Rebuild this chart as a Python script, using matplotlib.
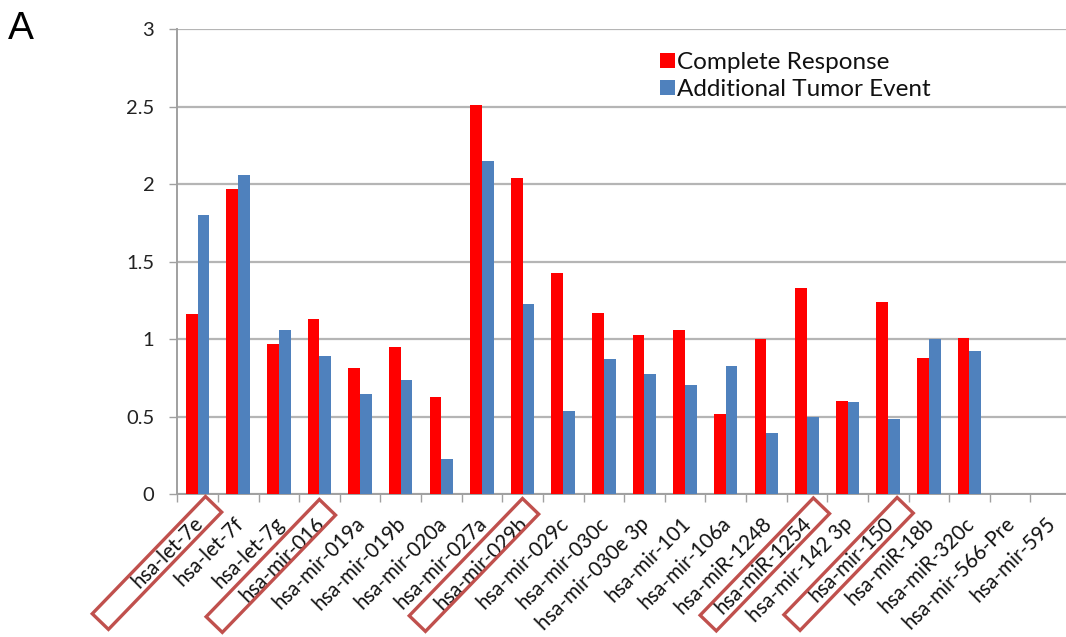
import numpy as np
import matplotlib
matplotlib.use("Agg")
import matplotlib.pyplot as plt
from matplotlib.patches import Rectangle
from matplotlib.transforms import Affine2D, ScaledTranslation, offset_copy

# miRNA names along the x axis
mirnas = [
    "hsa-let-7e", "hsa-let-7f", "hsa-let-7g", "hsa-mir-016", "hsa-mir-019a",
    "hsa-mir-019b", "hsa-mir-020a", "hsa-mir-027a", "hsa-mir-029b", "hsa-mir-029c",
    "hsa-mir-030c", "hsa-mir-030e 3p", "hsa-mir-101", "hsa-mir-106a", "hsa-miR-1248",
    "hsa-miR-1254", "hsa-mir-142 3p", "hsa-mir-150", "hsa-miR-18b", "hsa-miR-320c",
    "hsa-mir-566-Pre", "hsa-mir-595",
]

complete_response = [
    1.16, 1.97, 0.97, 1.13, 0.815, 0.95, 0.625, 2.51, 2.04, 1.425,
    1.17, 1.025, 1.06, 0.52, 1.00, 1.33, 0.60, 1.24, 0.88, 1.01,
    0.0, 0.0,
]

additional_tumor_event = [
    1.80, 2.06, 1.06, 0.89, 0.645, 0.74, 0.23, 2.15, 1.23, 0.54,
    0.87, 0.775, 0.705, 0.83, 0.395, 0.50, 0.595, 0.485, 1.00, 0.925,
    0.0, 0.0,
]

y_ticks = [0, 0.5, 1, 1.5, 2, 2.5, 3]
y_tick_labels = ["0", "0.5", "1", "1.5", "2", "2.5", "3"]

# miRNAs singled out with an outlined frame around their labels
highlighted = ["hsa-let-7e", "hsa-mir-016", "hsa-mir-029b", "hsa-miR-1254", "hsa-mir-150"]

RED = "#FF0000"
BLUE = "#4F81BD"
FRAME = "#C0504D"
GRID = "#B5B5B5"
AXIS = "#A0A0A0"
FONT = ["Lato", "DejaVu Sans"]

fig = plt.figure(figsize=(10.66, 6.37), dpi=100)
ax = fig.add_axes([0.1663, 0.224, 0.8384, 0.7305])

x = np.arange(len(mirnas))
w = 0.29
ax.bar(x - w / 2, complete_response, w, color=RED, label="Complete Response", zorder=3)
ax.bar(x + w / 2, additional_tumor_event, w, color=BLUE, label="Additional Tumor Event", zorder=3)

ax.set_xlim(-0.5, len(mirnas) - 0.5)
ax.set_ylim(0, 3)

ax.set_yticks(y_ticks)
ax.set_yticklabels(y_tick_labels, fontfamily=FONT, fontsize=14.5, color="#222222")
ax.tick_params(axis="y", length=5.5, width=1, color=AXIS, pad=11)

# category boundary ticks without labels
ax.set_xticks(np.arange(-0.5, len(mirnas), 1.0))
ax.set_xticklabels([])
ax.tick_params(axis="x", length=5.5, width=1, color=AXIS)

ax.yaxis.grid(True, color=GRID, linewidth=1.6)
ax.set_axisbelow(True)
for side in ("top", "right"):
    ax.spines[side].set_visible(False)
for side in ("left", "bottom"):
    ax.spines[side].set_color(AXIS)
    ax.spines[side].set_linewidth(1.4)

# rotated category labels, right end hanging under each category
label_tr = offset_copy(ax.transData, fig=fig, x=2, y=-26, units="dots")
for i, name in enumerate(mirnas):
    ax.text(i, 0, name, transform=label_tr, rotation=45, rotation_mode="anchor",
            ha="right", va="center", fontsize=14.8, fontfamily=FONT,
            color="#111111", clip_on=False)

# outlined frames around highlighted labels (sizes in pixels)
frame_len, frame_wid = 163, 22.5
frame_shift = {
    "hsa-let-7e": (16, -10),
    "hsa-mir-016": (8, -13),
    "hsa-mir-029b": (8, -12),
    "hsa-miR-1254": (14.5, -11.5),
    "hsa-mir-150": (17, -11),
}
for name in highlighted:
    i = mirnas.index(name)
    dx, dy = frame_shift[name]
    tr = (Affine2D().rotate_deg(46).translate(dx, dy)
          + ScaledTranslation(i, 0, ax.transData))
    rect = Rectangle((-frame_len, -frame_wid / 2), frame_len, frame_wid,
                     fill=False, edgecolor=FRAME, linewidth=2.4, transform=tr,
                     clip_on=False, zorder=5)
    fig.add_artist(rect)

leg = ax.legend(loc="upper left", bbox_to_anchor=(660 / 1066, (637 - 52) / 637),
                bbox_transform=fig.transFigure, frameon=False, borderpad=0,
                borderaxespad=0, handlelength=0.6, handleheight=0.6,
                handletextpad=0.08, labelspacing=0.25,
                prop={"family": FONT, "size": 17.5})
for t in leg.get_texts():
    t.set_color("#111111")

fig.text(8 / 1066, (637 - 39) / 637, "A", fontsize=28,
         fontfamily=["Liberation Sans", "DejaVu Sans"], ha="left", va="baseline")

fig.savefig("out.png", dpi=100)
